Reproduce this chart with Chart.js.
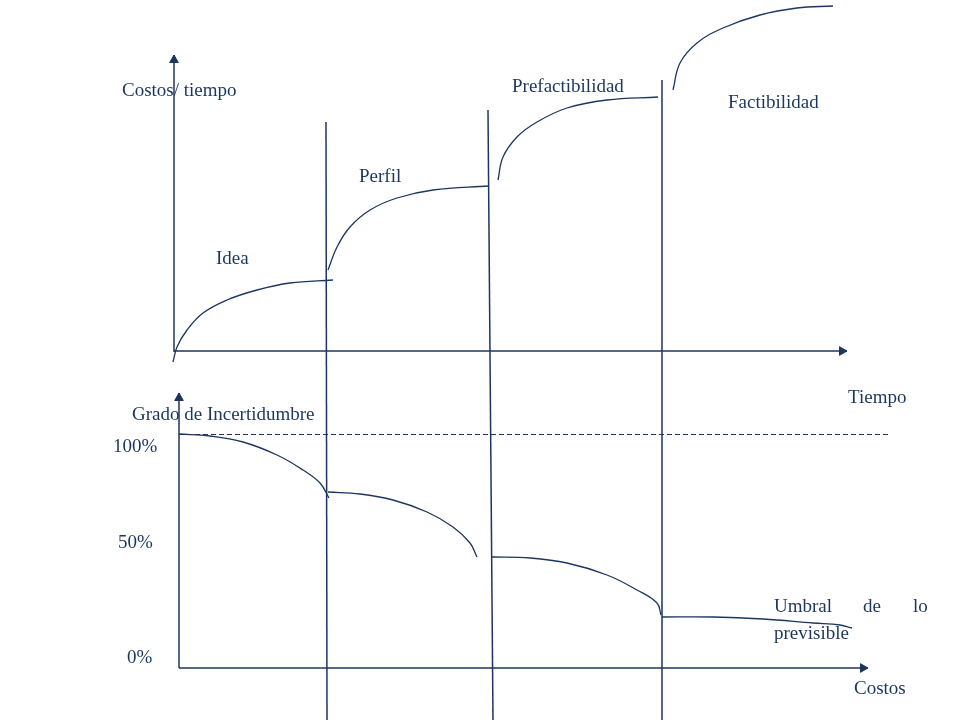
<!DOCTYPE html>
<html>
<head>
<meta charset="utf-8">
<script src="https://cdn.jsdelivr.net/npm/chart.js"></script>
<style>
  html, body { margin: 0; padding: 0; background: #ffffff; }
  #wrap { width: 960px; height: 720px; }
</style>
</head>
<body>
<div id="wrap"><canvas id="diagram" width="960" height="720"></canvas></div>
<script>
// ===== データ (図面単位: x=右方向, y=上方向) =====
// 上段: 段階ごとの costos / tiempo 曲線
const ideaCurve     = [[173,358],[177,373],[187,390],[203,407],[227,420],[257,430],[290,437],[333,440]];
const perfilCurve   = [[328,450],[337,473],[350,493],[370,510],[397,522],[433,530],[489,534]];
const prefactCurve  = [[498,540],[503,563],[517,583],[537,598],[567,612],[607,620],[658,623]];
const factCurve     = [[673,630],[680,657],[697,677],[723,692],[760,705],[797,712],[833,714]];

// 下段: grado de incertidumbre 曲線
const incert1 = [[179,286],[210,284],[243,278],[277,265],[303,250],[320,237],[329,222]];
const incert2 = [[328,228],[360,226],[393,220],[427,208],[453,193],[470,177],[477,163]];
const incert3 = [[492,163],[530,162],[567,157],[607,145],[637,130],[657,117],[661,105]];
const incert4 = [[662,103],[713,103],[763,101],[813,97],[840,95],[852,92]];

// 軸と区切り線
const topAxisY    = [[174,368],[174,665]];
const topAxisX    = [[174,369],[847,369]];
const bottomAxisY = [[179,52],[179,327]];
const bottomAxisX = [[179,52],[868,52]];
const divider1    = [[326,598],[327,0]];
const divider2    = [[488,610],[493,0]];
const divider3    = [[662,640],[662,0]];
const threshold   = [[179,285.5],[888,285.5]];

// 矢印の先端 [x, y, 回転]
const arrowHeads = [[174,660,0],[842,369,90],[179,322,0],[863,52,90]];

// テキスト
const labelTexts = ['Costos/ tiempo','Idea','Perfil','Prefactibilidad','Factibilidad','Tiempo',
  'Grado de Incertidumbre','100%','50%','0%','Umbral','de','lo','previsible','Costos'];
const labelAnchors = [[122,624],[216,456],[359,538],[512,628],[728,612],[848,317],
  [132,300],[113,268],[118,172],[127,57],[774,108],[863,108],[913,108],[774,81],[854,26]];

const INK = '#1c365e';

// ===== ユーティリティ =====
function toPoints(arr) {
  return arr.map(p => ({ x: p[0], y: p[1] }));
}

function lineSet(arr, opts) {
  return Object.assign({
    data: toPoints(arr),
    showLine: true,
    borderColor: INK,
    borderWidth: 1.5,
    pointRadius: 0,
    fill: false,
    clip: false
  }, opts || {});
}

function curveSet(arr) {
  return lineSet(arr, { tension: 0.4, borderWidth: 1.3 });
}

const textPlugin = {
  id: 'diagramText',
  afterDatasetsDraw(chart) {
    const ctx = chart.ctx;
    const sx = chart.scales.x, sy = chart.scales.y;
    ctx.save();
    ctx.fillStyle = INK;
    ctx.font = '19px "Liberation Serif", "Times New Roman", serif';
    ctx.textBaseline = 'alphabetic';
    ctx.textAlign = 'left';
    labelTexts.forEach((t, i) => {
      const a = labelAnchors[i];
      ctx.fillText(t, sx.getPixelForValue(a[0]), sy.getPixelForValue(a[1]));
    });
    ctx.restore();
  }
};

// ===== 描画 =====
const datasets = [
  curveSet(ideaCurve), curveSet(perfilCurve), curveSet(prefactCurve), curveSet(factCurve),
  curveSet(incert1), curveSet(incert2), curveSet(incert3), curveSet(incert4),
  lineSet(topAxisY), lineSet(topAxisX), lineSet(bottomAxisY), lineSet(bottomAxisX),
  lineSet(divider1), lineSet(divider2), lineSet(divider3),
  lineSet(threshold, { borderWidth: 1, borderDash: [5, 3] }),
  {
    data: arrowHeads.map(a => ({ x: a[0], y: a[1] })),
    showLine: false,
    pointStyle: 'triangle',
    pointRadius: 5,
    pointRotation: arrowHeads.map(a => a[2]),
    backgroundColor: INK,
    borderColor: INK,
    borderWidth: 1,
    clip: false
  }
];

new Chart(document.getElementById('diagram'), {
  type: 'scatter',
  data: { datasets },
  options: {
    responsive: false,
    animation: false,
    layout: { padding: 0, autoPadding: false },
    plugins: { legend: { display: false }, tooltip: { enabled: false } },
    scales: {
      x: { type: 'linear', min: 0, max: 960, display: false },
      y: { type: 'linear', min: 0, max: 720, display: false }
    }
  },
  plugins: [textPlugin]
});
</script>
</body>
</html>
